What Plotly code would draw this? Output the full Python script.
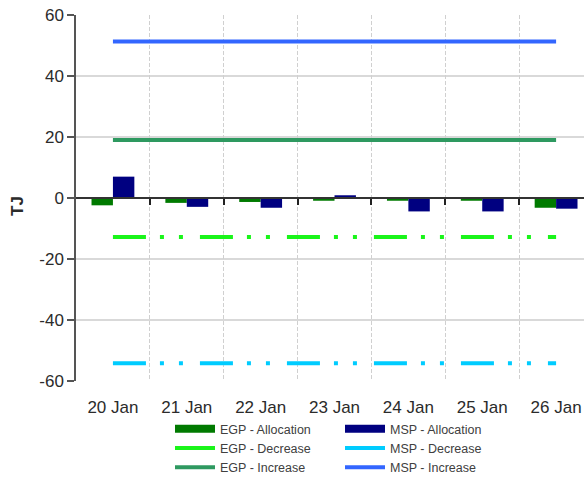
import plotly.graph_objects as go

# Daily gas day labels
days = ["20 Jan", "21 Jan", "22 Jan", "23 Jan", "24 Jan", "25 Jan", "26 Jan"]

# Allocations (TJ)
egp_allocation = [-2.4, -1.6, -1.3, -0.9, -0.9, -0.9, -3.2]
msp_allocation = [7.0, -2.9, -3.2, 0.9, -4.4, -4.4, -3.5]

# Flexibility limits (TJ)
egp_decrease = [-12.8, -12.8, -12.8, -12.8, -12.8, -12.8, -12.8]
msp_decrease = [-54.2, -54.2, -54.2, -54.2, -54.2, -54.2, -54.2]
egp_increase = [19.0, 19.0, 19.0, 19.0, 19.0, 19.0, 19.0]
msp_increase = [51.3, 51.3, 51.3, 51.3, 51.3, 51.3, 51.3]

y_ticks = [-60, -40, -20, 0, 20, 40, 60]
y_tick_text = ["-60", "-40", "-20", "0", "20", "40", "60"]

C_EGP_ALLOC = "#007a00"
C_MSP_ALLOC = "#000080"
C_EGP_DEC = "#1af51a"
C_MSP_DEC = "#00ccff"
C_EGP_INC = "#2e9960"
C_MSP_INC = "#3366ff"

W, H = 584, 477
L, R, T, B = 76, 0, 15, 96
slot = 73.86  # pixel width of one day
plot_w = W - L - R
x_pos = list(range(len(days)))
x_range = [-0.5, -0.5 + plot_w / slot]

dot_dash = "33px,14px,4px,15px,4px,17px"
font = "Liberation Sans, Arial, sans-serif"
text_color = "#2b2b2b"

fig = go.Figure()

# limit lines
fig.add_trace(go.Scatter(x=x_pos, y=egp_decrease, mode="lines", showlegend=False,
                         line=dict(color=C_EGP_DEC, width=4, dash=dot_dash), hoverinfo="skip"))
fig.add_trace(go.Scatter(x=x_pos, y=msp_decrease, mode="lines", showlegend=False,
                         line=dict(color=C_MSP_DEC, width=4, dash=dot_dash), hoverinfo="skip"))
fig.add_trace(go.Scatter(x=x_pos, y=egp_increase, mode="lines", showlegend=False,
                         line=dict(color=C_EGP_INC, width=4), hoverinfo="skip"))
fig.add_trace(go.Scatter(x=x_pos, y=msp_increase, mode="lines", showlegend=False,
                         line=dict(color=C_MSP_INC, width=4), hoverinfo="skip"))

# allocation bars
fig.add_trace(go.Bar(x=x_pos, y=egp_allocation, name="EGP - Allocation", showlegend=False,
                     marker=dict(color=C_EGP_ALLOC, line=dict(width=0))))
fig.add_trace(go.Bar(x=x_pos, y=msp_allocation, name="MSP - Allocation", showlegend=False,
                     marker=dict(color=C_MSP_ALLOC, line=dict(width=0))))

# legend entries: left column EGP, right column MSP
legend_items = [
    ("EGP - Allocation", C_EGP_ALLOC, 8, "legend"),
    ("EGP - Decrease", C_EGP_DEC, 4, "legend"),
    ("EGP - Increase", C_EGP_INC, 4, "legend"),
    ("MSP - Allocation", C_MSP_ALLOC, 8, "legend2"),
    ("MSP - Decrease", C_MSP_DEC, 4, "legend2"),
    ("MSP - Increase", C_MSP_INC, 4, "legend2"),
]
for name, color, width, leg in legend_items:
    fig.add_trace(go.Scatter(x=[None], y=[None], mode="lines", name=name, legend=leg,
                             line=dict(color=color, width=width)))

# overlay axis: zero line with day separators and dashed vertical grid
fig.add_trace(go.Scatter(x=[None], y=[None], xaxis="x2", showlegend=False))

legend_style = dict(
    orientation="v", xref="container", yref="container", xanchor="left", yanchor="top",
    y=1 - 414 / H, font=dict(family=font, size=12.5, color="#404040"),
    bgcolor="rgba(0,0,0,0)", itemwidth=40, itemclick=False,
)

fig.update_layout(
    width=W, height=H,
    margin=dict(l=L, r=R, t=T, b=B, autoexpand=False),
    paper_bgcolor="white", plot_bgcolor="white",
    barmode="group", bargap=0.42, bargroupgap=0,
    font=dict(family=font, color=text_color),
    xaxis=dict(
        range=x_range, tickvals=x_pos, ticktext=days, showgrid=False, zeroline=False,
        showline=False, ticks="", ticklabelstandoff=14,
        tickfont=dict(size=17, color=text_color), fixedrange=True,
    ),
    xaxis2=dict(
        overlaying="x", anchor="free", position=0.5, range=x_range,
        tickvals=[i + 0.5 for i in x_pos], showticklabels=False,
        ticks="outside", ticklen=6, tickwidth=1.5, tickcolor="#222222",
        showline=True, linecolor="#333333", linewidth=1.5,
        showgrid=True, gridcolor="#d0d0d0", gridwidth=1, griddash="4px,2px",
        zeroline=False, fixedrange=True,
    ),
    yaxis=dict(
        range=[-60, 60], tickvals=y_ticks, ticktext=y_tick_text,
        showgrid=True, gridcolor="#d9d9d9", gridwidth=1.5,
        zeroline=False, showline=True, linecolor="#555555", linewidth=1.5,
        ticks="outside", ticklen=7, tickcolor="#555555", tickwidth=1.5,
        tickfont=dict(size=17, color=text_color), fixedrange=True,
    ),
    legend=dict(x=170 / W, **legend_style),
    legend2=dict(x=340 / W, **legend_style),
    annotations=[dict(
        text="<b>TJ</b>", textangle=-90, xref="paper", yref="paper",
        xanchor="center", yanchor="middle",
        x=(17 - L) / plot_w, y=(381 - 206) / (H - T - B), showarrow=False,
        font=dict(family=font, size=17, color=text_color),
    )],
)

fig.write_html("out.html")
